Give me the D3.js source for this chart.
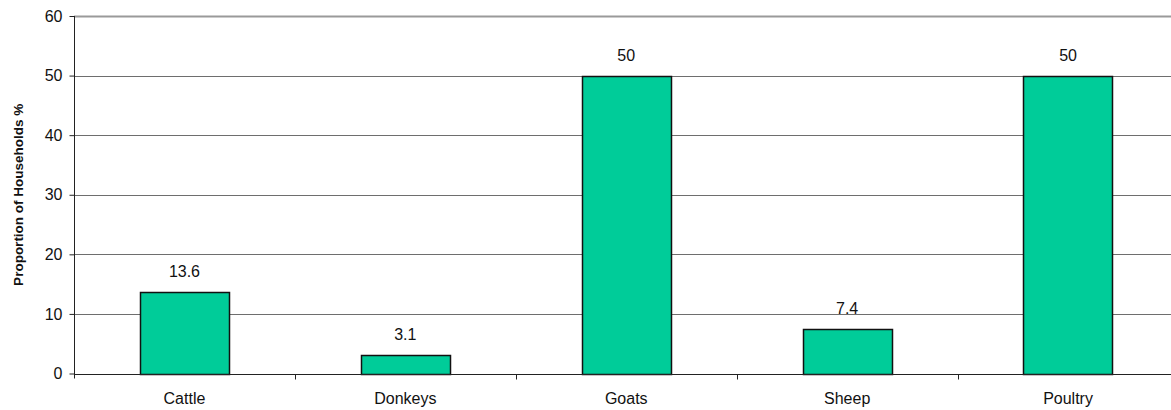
<!DOCTYPE html>
<html>
<head>
<meta charset="utf-8">
<script src="https://cdn.jsdelivr.net/npm/d3@7"></script>
<style>
  html, body { margin: 0; padding: 0; background: #fff; }
  svg { display: block; font-family: "Liberation Sans", Arial, sans-serif; }
</style>
</head>
<body>
<svg id="chart" width="1171" height="410"></svg>
<script>
// Share of households keeping each type of livestock
const categories = ["Cattle", "Donkeys", "Goats", "Sheep", "Poultry"];
const values = [13.6, 3.1, 50, 7.4, 50];
const yTicks = [0, 10, 20, 30, 40, 50, 60];
const yTitle = "Proportion of Households %";

const svg = d3.select("#chart");
const margin = { left: 74, top: 16, bottom: 36.5 };
const plotRight = 1178.5;         // plot area runs slightly past the frame edge
const height = 410;

const x = d3.scaleBand()
  .domain(categories)
  .range([margin.left, plotRight])
  .paddingInner(0)
  .paddingOuter(0);

const y = d3.scaleLinear()
  .domain([0, 60])
  .range([height - margin.bottom, margin.top]);

const barWidth = x.bandwidth() * 0.404;

// horizontal gridlines
svg.append("g")
  .selectAll("line")
  .data(yTicks.filter(t => t > 0))
  .join("line")
  .attr("x1", margin.left)
  .attr("x2", plotRight)
  .attr("y1", d => Math.round(y(d)) + 0.5)
  .attr("y2", d => Math.round(y(d)) + 0.5)
  .attr("stroke", d => d === 60 ? "#9a9a9a" : "#6e6e6e")
  .attr("stroke-width", d => d === 60 ? 2 : 1);

// bars
svg.append("g")
  .selectAll("rect")
  .data(categories)
  .join("rect")
  .attr("x", (d) => Math.round(x(d) + (x.bandwidth() - barWidth) / 2) + 0.5)
  .attr("y", (d, i) => Math.round(y(values[i])) + 0.5)
  .attr("width", Math.round(barWidth))
  .attr("height", (d, i) => Math.round(y(0)) - Math.round(y(values[i])))
  .attr("fill", "#00CC99")
  .attr("stroke", "#111")
  .attr("stroke-width", 1.5);

// value labels above bars
svg.append("g")
  .selectAll("text")
  .data(categories)
  .join("text")
  .attr("x", d => x(d) + x.bandwidth() / 2)
  .attr("y", (d, i) => y(values[i]) - 15)
  .attr("text-anchor", "middle")
  .attr("font-size", 16)
  .attr("fill", "#111")
  .text((d, i) => values[i]);

// y axis
const yAxis = d3.axisLeft(y)
  .tickValues(yTicks)
  .tickSize(5)
  .tickPadding(7)
  .tickFormat(d3.format("d"));
const gy = svg.append("g")
  .attr("transform", `translate(${margin.left + 0.5},0)`)
  .call(yAxis);
gy.select(".domain").attr("stroke", "#222").attr("d", `M0,${y(0) + 5}V${y(60)}`);
gy.selectAll(".tick line").attr("stroke", "#222");
gy.selectAll(".tick text")
  .attr("font-size", 16)
  .attr("font-family", "Liberation Sans, Arial, sans-serif")
  .attr("fill", "#111");

// x axis with ticks between categories
const gx = svg.append("g")
  .attr("transform", `translate(0,${Math.round(y(0)) + 0.5})`);
gx.append("line")
  .attr("x1", margin.left)
  .attr("x2", plotRight)
  .attr("stroke", "#222");
gx.selectAll("line.sep")
  .data(categories.slice(1))
  .join("line")
  .attr("class", "sep")
  .attr("x1", d => Math.round(x(d)) + 0.5)
  .attr("x2", d => Math.round(x(d)) + 0.5)
  .attr("y1", 0)
  .attr("y2", 5)
  .attr("stroke", "#222");
gx.selectAll("text")
  .data(categories)
  .join("text")
  .attr("x", d => x(d) + x.bandwidth() / 2)
  .attr("y", 29)
  .attr("text-anchor", "middle")
  .attr("font-size", 16)
  .attr("fill", "#111")
  .text(d => d);

// y axis title
svg.append("text")
  .attr("transform", `translate(23,${(y(0) + y(60)) / 2}) rotate(-90)`)
  .attr("text-anchor", "middle")
  .attr("font-size", 13.5)
  .attr("font-weight", "bold")
  .attr("fill", "#111")
  .text(yTitle);
</script>
</body>
</html>
